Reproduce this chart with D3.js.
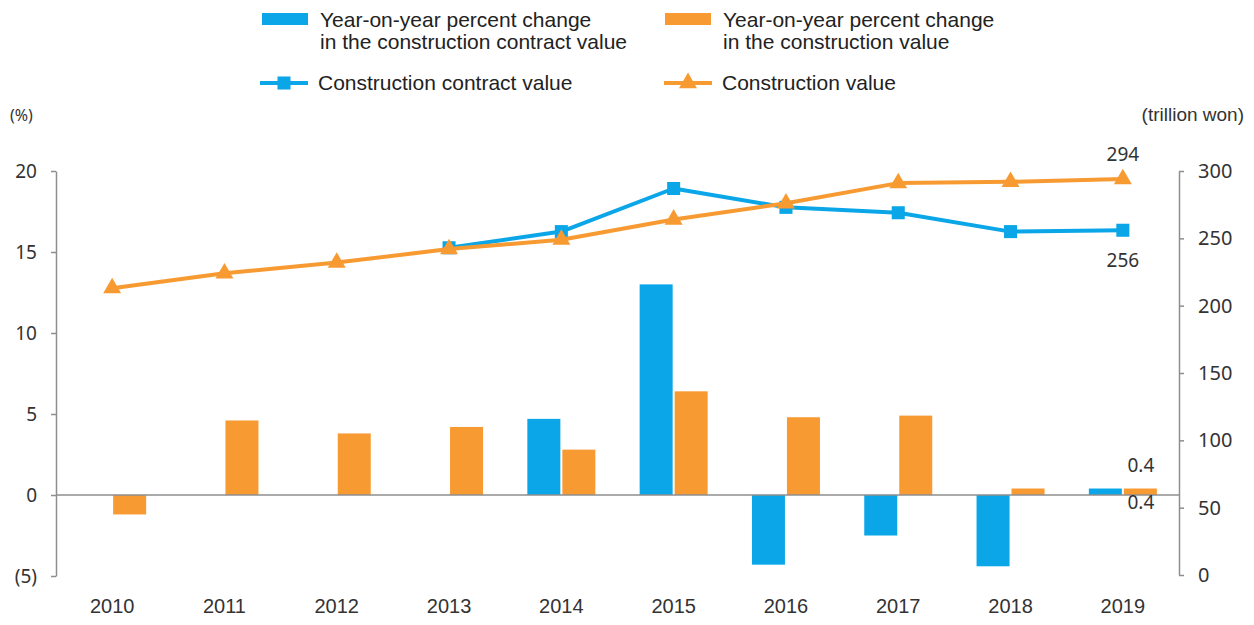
<!DOCTYPE html>
<html>
<head>
<meta charset="utf-8">
<script src="https://cdn.jsdelivr.net/npm/d3@7"></script>
<style>
  body { margin: 0; background: #fff; }
  svg { display: block; }
  .tick text { fill: #333; }
</style>
</head>
<body>
<div id="chart"></div>
<script>
// ── Data ─────────────────────────────────────────────────────────────────────
const years              = ['2010','2011','2012','2013','2014','2015','2016','2017','2018','2019'];
const contractChange     = [null, null, null, null, 4.7, 13.0, -4.3, -2.5, -4.4, 0.4];
const constructionChange = [-1.2, 4.6, 3.8, 4.2, 2.8, 6.4, 4.8, 4.9, 0.4, 0.4];
const contractValue      = [null, null, null, 243, 255, 287, 273, 269, 255, 256];
const constructionValue  = [213, 224, 232, 242, 249, 264, 276, 291, 292, 294];
const leftTicks          = [-5, 0, 5, 10, 15, 20];
const rightTicks         = [0, 50, 100, 150, 200, 250, 300];

const BLUE   = '#0aa6e8';
const ORANGE = '#f89a32';
const GREY   = '#8e8e8e';
const TXT    = '#333';
const SANS   = '"Liberation Sans", Arial, sans-serif';
const NUM    = '"Noto Sans", "DejaVu Sans", sans-serif';

const W = 1254, H = 625;
const L = 56, R = 1179;

const svg = d3.select('#chart').append('svg').attr('width', W).attr('height', H);

// ── Scales ───────────────────────────────────────────────────────────────────
const x  = d3.scaleBand().domain(years).range([L, R]).padding(0);
const xs = d3.scaleBand().domain(['contract', 'construction'])
  .range([x.bandwidth() / 2 - 34, x.bandwidth() / 2 + 34]).paddingInner(2 / 35);
const yL = d3.scaleLinear().domain([-5, 20]).range([576, 171]);
const yR = d3.scaleLinear().domain([0, 300]).range([575, 171]);

// ── Bars ─────────────────────────────────────────────────────────────────────
const barsG = svg.append('g');
function drawBars(vals, key, color) {
  barsG.selectAll(null)
    .data(years.map((y, i) => ({ y, v: vals[i] })).filter(d => d.v != null))
    .join('rect')
    .attr('x', d => x(d.y) + xs(key))
    .attr('width', xs.bandwidth())
    .attr('y', d => yL(Math.max(0, d.v)))
    .attr('height', d => Math.abs(yL(d.v) - yL(0)))
    .attr('fill', color);
}
drawBars(contractChange, 'contract', BLUE);
drawBars(constructionChange, 'construction', ORANGE);

// zero line
svg.append('line')
  .attr('x1', L).attr('x2', R)
  .attr('y1', yL(0)).attr('y2', yL(0))
  .attr('stroke', GREY).attr('stroke-width', 1.5);

// ── Axes ─────────────────────────────────────────────────────────────────────
svg.append('g').attr('transform', `translate(${L},0)`)
  .call(d3.axisLeft(yL).tickValues(leftTicks).tickSize(5).tickSizeOuter(0).tickPadding(14)
    .tickFormat(d => d < 0 ? `(${-d})` : d))
  .call(a => a.selectAll('path, line').attr('stroke', GREY).attr('stroke-width', 1.5))
  .call(a => a.selectAll('text').attr('font-family', NUM).attr('font-size', 19).attr('fill', TXT));

svg.append('g').attr('transform', `translate(${R},0)`)
  .call(d3.axisRight(yR).tickValues(rightTicks).tickSize(5).tickSizeOuter(0).tickPadding(14))
  .call(a => a.selectAll('path, line').attr('stroke', GREY).attr('stroke-width', 1.5))
  .call(a => a.selectAll('text').attr('font-family', NUM).attr('font-size', 20).attr('fill', TXT));

svg.append('g').attr('transform', `translate(0,${yL(-5)})`)
  .call(d3.axisBottom(x).tickSize(0).tickPadding(23))
  .call(a => a.select('.domain').remove())
  .call(a => a.selectAll('text').attr('font-family', SANS).attr('font-size', 20).attr('fill', TXT));

svg.append('text').attr('x', 10).attr('y', 121)
  .attr('font-family', NUM).attr('font-size', 16).attr('fill', TXT).text('(%)');
svg.append('text').attr('x', 1244).attr('y', 121).attr('text-anchor', 'end')
  .attr('font-family', SANS).attr('font-size', 19).attr('fill', TXT).text('(trillion won)');

// ── Lines ────────────────────────────────────────────────────────────────────
const cx = d => x(d.y) + x.bandwidth() / 2;
const sq  = d3.symbol().type(d3.symbolSquare).size(170);
const tri = d3.symbol().type(d3.symbolTriangle).size(140);

function drawLine(vals, color, sym) {
  const pts = years.map((y, i) => ({ y, v: vals[i] })).filter(d => d.v != null);
  const g = svg.append('g');
  g.append('path').datum(pts)
    .attr('d', d3.line().x(cx).y(d => yR(d.v)))
    .attr('fill', 'none').attr('stroke', color).attr('stroke-width', 4).attr('stroke-linejoin', 'round');
  g.selectAll('path.m').data(pts).join('path').attr('class', 'm')
    .attr('transform', d => `translate(${cx(d)},${yR(d.v)})`)
    .attr('d', sym).attr('fill', color);
}
drawLine(contractValue, BLUE, sq);
drawLine(constructionValue, ORANGE, tri);

// ── Value labels ─────────────────────────────────────────────────────────────
const last = years.length - 1;
const lblG = svg.append('g').attr('font-family', NUM).attr('font-size', 19).attr('fill', TXT)
  .attr('text-anchor', 'middle');
lblG.append('text').attr('x', x(years[last]) + x.bandwidth() / 2)
  .attr('y', yR(constructionValue[last]) - 18).text(constructionValue[last]);
lblG.append('text').attr('x', x(years[last]) + x.bandwidth() / 2)
  .attr('y', yR(contractValue[last]) + 37).text(contractValue[last]);
lblG.append('text').attr('x', x(years[last]) + x.bandwidth() / 2 + 18)
  .attr('y', yL(constructionChange[last]) - 17).text(constructionChange[last]);
lblG.append('text').attr('x', x(years[last]) + x.bandwidth() / 2 + 18)
  .attr('y', yL(0) + 14).text(contractChange[last]);

// ── Legend ───────────────────────────────────────────────────────────────────
const leg = svg.append('g').attr('font-family', SANS).attr('font-size', 21).attr('fill', '#222');
function barItem(x0, color, lines) {
  leg.append('rect').attr('x', x0).attr('y', 13).attr('width', 46).attr('height', 12).attr('fill', color);
  lines.forEach((t, i) => leg.append('text').attr('x', x0 + 58).attr('y', 27 + i * 22).text(t));
}
function lineItem(x0, color, sym, label) {
  leg.append('line').attr('x1', x0).attr('x2', x0 + 48).attr('y1', 83).attr('y2', 83)
    .attr('stroke', color).attr('stroke-width', 4);
  leg.append('path').attr('transform', `translate(${x0 + 24},83)`).attr('d', sym).attr('fill', color);
  leg.append('text').attr('x', x0 + 58).attr('y', 90).text(label);
}
barItem(262, BLUE, ['Year-on-year percent change', 'in the construction contract value']);
barItem(665, ORANGE, ['Year-on-year percent change', 'in the construction value']);
lineItem(260, BLUE, sq, 'Construction contract value');
lineItem(664, ORANGE, tri, 'Construction value');
</script>
</body>
</html>
